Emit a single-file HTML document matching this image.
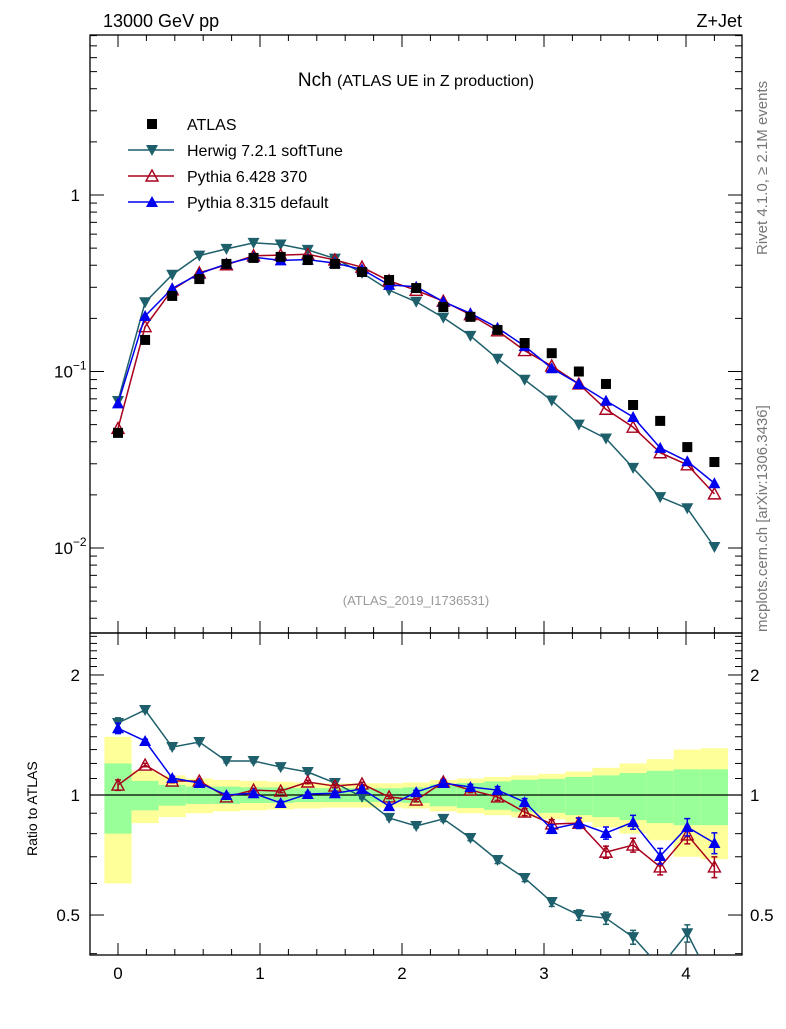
<!DOCTYPE html>
<html><head><meta charset="utf-8"><style>
body{margin:0;background:#fff}
svg text{font-family:"Liberation Sans","DejaVu Sans",sans-serif}
</style></head><body>
<svg id="c" width="786" height="1024" viewBox="0 0 786 1024" xmlns="http://www.w3.org/2000/svg">
<g id="bands"></g><g id="axes"></g><g id="series"></g>
<text x="103" y="27" font-size="18">13000 GeV pp</text>
<text x="742" y="27" font-size="18" text-anchor="end">Z+Jet</text>
<text x="416" y="86" font-size="19" text-anchor="middle">Nch <tspan font-size="16">(ATLAS UE in Z production)</tspan></text>
<text x="416" y="605" font-size="13" fill="#999" text-anchor="middle">(ATLAS_2019_I1736531)</text>
<text transform="translate(767,255) rotate(-90)" font-size="15" fill="#777">Rivet 4.1.0, ≥ 2.1M events</text>
<text transform="translate(767,632) rotate(-90)" font-size="15" fill="#777">mcplots.cern.ch [arXiv:1306.3436]</text>
<text transform="translate(37,856) rotate(-90)" font-size="14">Ratio to ATLAS</text>
<g id="legend"></g>
</svg>
<script>
const xs = [0,0.1909,0.3818,0.5727,0.7636,0.9545,1.1455,1.3364,1.5273,1.7182,1.9091,2.1,2.2909,2.4818,2.6727,2.8636,3.0545,3.2455,3.4364,3.6273,3.8182,4.0091,4.2];
const atlas = [0.0449,0.151,0.268,0.334,0.407,0.44,0.446,0.428,0.407,0.366,0.33,0.297,0.232,0.204,0.172,0.145,0.127,0.1,0.085,0.0646,0.0525,0.0373,0.0307];
const herwigRatio = [1.516,1.634,1.319,1.358,1.217,1.217,1.175,1.142,1.072,0.989,0.876,0.836,0.871,0.78,0.687,0.619,0.539,0.5,0.491,0.44,0.37,0.45,0.33];
const py6Ratio = [1.059,1.189,1.084,1.084,0.989,1.029,1.023,1.078,1.053,1.066,0.989,0.971,1.078,1.029,0.989,0.906,0.846,0.85,0.719,0.749,0.66,0.794,0.66];
const py8Ratio = [1.47,1.366,1.103,1.072,1.0,1.01,0.955,1.006,1.01,1.035,0.938,1.017,1.072,1.047,1.029,0.96,0.822,0.85,0.803,0.855,0.703,0.831,0.758];
const mcErr = [0.03,0.01,0.01,0.01,0.01,0.01,0.01,0.01,0.01,0.01,0.01,0.01,0.015,0.015,0.02,0.02,0.025,0.03,0.035,0.04,0.045,0.05,0.06];
const bandOuter = [0.4,0.15,0.12,0.1,0.09,0.085,0.08,0.075,0.07,0.07,0.07,0.075,0.09,0.1,0.11,0.12,0.13,0.145,0.17,0.2,0.23,0.3,0.31];
const bandInner = [0.2,0.085,0.06,0.05,0.05,0.045,0.045,0.04,0.04,0.04,0.04,0.045,0.063,0.072,0.082,0.092,0.098,0.11,0.12,0.135,0.15,0.16,0.16];
const xTicks = [0,1,2,3,4];
const mainTickLabels = [[1,"1",""],[0.1,"10","−1"],[0.01,"10","−2"]];
const ratioTickLabels = [[0.5,"0.5"],[1,"1"],[2,"2"]];

const NS="http://www.w3.org/2000/svg";
const L=90,R=742,MT=35,MB=633,RT=633,RB=955;
const X=v=>118+v*142;
const YM=v=>195-Math.log10(v)*176.5;
const YR=v=>795-Math.log10(v)*398.7;
function mk(parent,tag,attrs){const e=document.createElementNS(NS,tag);for(const k in attrs)e.setAttribute(k,attrs[k]);document.getElementById(parent)?document.getElementById(parent).appendChild(e):parent.appendChild(e);return e;}

// bands
const hw=0.0955;
xs.forEach((x,i)=>{
  let y1=YR(1+bandOuter[i]),y2=YR(Math.max(0.4,1-bandOuter[i]));
  let e=mk("bands","rect",{x:X(x-hw),y:y1,width:X(x+hw)-X(x-hw),height:y2-y1,fill:"#ffff99"});
  
  
  y1=YR(1+bandInner[i]);y2=YR(1-bandInner[i]);
  e=mk("bands","rect",{x:X(x-hw),y:y1,width:X(x+hw)-X(x-hw),height:y2-y1,fill:"#99ff99"});
  
  
});
let ln=mk("axes","line",{x1:L,x2:R,y1:YR(1),y2:YR(1),stroke:"#000","stroke-width":1.2});



[[MT,MB,'main-frame'],[RT,RB,'ratio-frame']].forEach(f=>{
  const e=mk("axes","rect",{x:L,y:f[0],width:R-L,height:f[1]-f[0],fill:"none",stroke:"#000","stroke-width":1.3});
  
  
});
for(let v=-0.2;v<=4.4;v+=0.2){
  const vv=Math.round(v*10)/10; const major=Math.abs(vv-Math.round(vv))<1e-6;
  const px=X(vv); if(px<L||px>R)continue;
  [[MB,-1],[MT,1],[RB,-1],[RT,1]].forEach(p=>{
    const len=major?12:6;
    mk("axes","line",{x1:px,x2:px,y1:p[0],y2:p[0]+p[1]*len,stroke:"#000","stroke-width":1});
  });
}
xTicks.forEach(t=>{
  const e=mk("axes","text",{x:X(t),y:979,"font-size":17,"text-anchor":"middle"});
  e.textContent=t;
  
  
});
for(let d=-3;d<=0;d++){for(let m=1;m<=9;m++){const v=m*Math.pow(10,d);const y=YM(v);if(y<MT||y>MB)continue;const len=m==1?14:7;
  mk("axes","line",{x1:L,x2:L+len,y1:y,y2:y,stroke:"#000"});mk("axes","line",{x1:R,x2:R-len,y1:y,y2:y,stroke:"#000"});}}
mainTickLabels.forEach(t=>{
  const e=mk("axes","text",{x:t[2]?54:80,y:YM(t[0])+6,"font-size":17});
  if(!t[2])e.setAttribute("text-anchor","end");
  e.textContent=t[1];
  if(t[2]){const s=mk(e,"tspan",{dy:-8,"font-size":12});s.textContent=t[2];}
  
  
});
[0.4,0.5,0.6,0.7,0.8,0.9,1,1.1,1.2,1.3,1.4,1.5,1.6,1.7,1.8,1.9,2,2.1,2.2,2.3,2.4,2.5].forEach(v=>{const y=YR(v);if(y<RT||y>RB)return;const len=(v==0.5||v==1||v==2)?14:7;
  mk("axes","line",{x1:L,x2:L+len,y1:y,y2:y,stroke:"#000"});mk("axes","line",{x1:R,x2:R-len,y1:y,y2:y,stroke:"#000"});});
ratioTickLabels.forEach(t=>{
  let e=mk("axes","text",{x:80,y:YR(t[0])+6,"font-size":17,"text-anchor":"end"});e.textContent=t[1];
  
  
  e=mk("axes","text",{x:750,y:YR(t[0])+6,"font-size":17});e.textContent=t[1];
  
  
});

function marker(g,type,cx,cy,col){
  if(type=="sq")return mk(g,"rect",{x:cx-5,y:cy-5,width:10,height:10,fill:col});
  if(type=="dn")return mk(g,"polygon",{points:`${cx-6},${cy-5} ${cx+6},${cy-5} ${cx},${cy+6}`,fill:col});
  if(type=="up")return mk(g,"polygon",{points:`${cx-6},${cy+5} ${cx+6},${cy+5} ${cx},${cy-6}`,fill:col});
  if(type=="open")return mk(g,"polygon",{points:`${cx-6},${cy+5} ${cx+6},${cy+5} ${cx},${cy-6}`,fill:"none",stroke:col,"stroke-width":1.4});
}
const series=[
  {name:"herwig",ratio:herwigRatio,col:"#1d5f6b",m:"dn"},
  {name:"pythia6",ratio:py6Ratio,col:"#a8001c",m:"open"},
  {name:"pythia8",ratio:py8Ratio,col:"#0000ee",m:"up"}];
const cp=mk("c","clipPath",{id:"rc"});mk(cp,"rect",{x:L,y:RT,width:R-L,height:RB-RT});
const rg=mk("series","g",{"clip-path":"url(#rc)"});
series.forEach(s=>{
  const mainV=s.ratio.map((r,i)=>r*atlas[i]);
  const g=mk("series","g",{});
  
  
  mk(g,"polyline",{points:xs.map((x,i)=>X(x)+","+YM(mainV[i])).join(" "),fill:"none",stroke:s.col,"stroke-width":1.5});
  const g2=mk(rg,"g",{});
  
  
  mk(g2,"polyline",{points:xs.map((x,i)=>X(x)+","+YR(s.ratio[i])).join(" "),fill:"none",stroke:s.col,"stroke-width":1.5});
  xs.forEach((x,i)=>{
    const e1=YR(s.ratio[i]*(1+mcErr[i])),e2=YR(s.ratio[i]*(1-mcErr[i]));
    mk(g2,"line",{x1:X(x),x2:X(x),y1:e1,y2:e2,stroke:s.col,"stroke-width":1.5});
    mk(g2,"line",{x1:X(x)-3,x2:X(x)+3,y1:e1,y2:e1,stroke:s.col,"stroke-width":1.5});
    mk(g2,"line",{x1:X(x)-3,x2:X(x)+3,y1:e2,y2:e2,stroke:s.col,"stroke-width":1.5});
    let p=marker(g,s.m,X(x),YM(mainV[i]),s.col);
    
    
    p=marker(g2,s.m,X(x),YR(s.ratio[i]),s.col);
    
    
  });
});
const ag=mk("series","g",{});


xs.forEach((x,i)=>{const p=marker(ag,"sq",X(x),YM(atlas[i]),"#000");
  
  });

const leg=[["ATLAS","sq","#000"],["Herwig 7.2.1 softTune","dn","#1d5f6b"],["Pythia 6.428 370","open","#a8001c"],["Pythia 8.315 default","up","#0000ee"]];
leg.forEach((l,i)=>{
  const y=124+i*26;
  const g=mk("legend","g",{});
  
  
  if(i>0)mk(g,"line",{x1:128,x2:174,y1:y,y2:y,stroke:l[2],"stroke-width":1.5});
  marker(g,l[1],152,y,l[2]);
  const t=mk(g,"text",{x:187,y:y+6,"font-size":16});t.textContent=l[0];
});
</script>
</body></html>
